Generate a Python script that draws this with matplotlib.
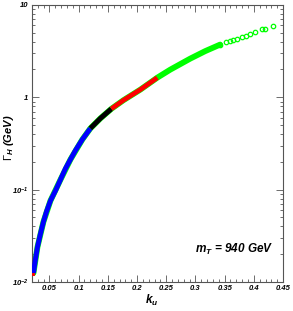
import numpy as np
import matplotlib
matplotlib.use('Agg')
import matplotlib.pyplot as plt
from matplotlib.ticker import MultipleLocator, LogLocator, FixedLocator, NullFormatter

plt.rcParams['mathtext.fontset'] = 'custom'
plt.rcParams['mathtext.rm'] = 'Liberation Sans:italic:bold'
plt.rcParams['mathtext.it'] = 'Liberation Sans:italic:bold'
plt.rcParams['mathtext.sf'] = 'Liberation Sans'

k_blue = [0.0226, 0.0261, 0.0295, 0.0346, 0.0397, 0.0449, 0.0517, 0.0603,
          0.0688, 0.0774, 0.0859, 0.0944, 0.1064, 0.1201]
g_blue = [0.0125, 0.0178, 0.0240, 0.0333, 0.0449, 0.0577, 0.0759, 0.0976,
          0.128, 0.169, 0.212, 0.265, 0.350, 0.461]

k_black = [0.1201, 0.1372, 0.1560]
g_black = [0.461, 0.591, 0.750]

k_red = [0.1560, 0.1765, 0.2056, 0.2346]
g_red = [0.750, 0.928, 1.21, 1.63]

k_green = [0.0226, 0.0295, 0.0397, 0.0517, 0.0688, 0.0859, 0.1064, 0.1201,
           0.1372, 0.1560, 0.1765, 0.2056, 0.2346, 0.2568, 0.2910, 0.3167, 0.3423]
g_green = [0.0125, 0.0240, 0.0449, 0.0759, 0.128, 0.212, 0.350, 0.461,
           0.591, 0.750, 0.928, 1.21, 1.63, 1.99, 2.62, 3.16, 3.72]

# sparse tail of green points
k_tail = [0.3526, 0.3594, 0.3650, 0.3719, 0.3794, 0.3868, 0.3936, 0.4021, 0.4146, 0.4187, 0.4324]
g_tail = [3.93, 4.03, 4.16, 4.30, 4.46, 4.64, 4.80, 5.05, 5.44, 5.50, 5.91]

k_red_dot = [0.0212]
g_red_dot = [0.0122]

fig = plt.figure(figsize=(2.93, 3.11), dpi=100)
ax = fig.add_axes([0.109, 0.0932, 0.857, 0.891])

ax.plot(k_green, g_green, color='#00ff00', lw=4.2, solid_capstyle='round', zorder=2)
ax.plot(k_green[-1:], g_green[-1:], 'o', mfc='none', mec='#00ff00', ms=3.2, mew=0.9, zorder=2)
ax.plot(k_tail, g_tail, 'o', mfc='none', mec='#00ff00', ms=3.2, mew=0.9, zorder=2)
ax.plot(k_blue, g_blue, color='#0000ff', lw=3.6, solid_capstyle='butt', zorder=3)
ax.plot(k_black, g_black, color='black', lw=3.6, solid_capstyle='butt', zorder=3)
ax.plot(k_red, g_red, color='#ff0000', lw=3.4, solid_capstyle='butt', zorder=3)
ax.plot(k_red_dot, g_red_dot, 's', color='#ff0000', ms=1.2, zorder=4)

ax.set_yscale('log')
ax.set_xlim(0.02, 0.45)
ax.set_ylim(0.01, 10)

tick_font = dict(family='Liberation Sans', weight='bold', style='italic', size=5.5)
ax.xaxis.set_major_locator(FixedLocator([0.05, 0.1, 0.15, 0.2, 0.25, 0.3, 0.35, 0.4, 0.45]))
ax.xaxis.set_minor_locator(MultipleLocator(0.01))
ax.set_xticklabels(['0.05', '0.1', '0.15', '0.2', '0.25', '0.3', '0.35', '0.4', '0.45'], **tick_font)
ax.yaxis.set_major_locator(FixedLocator([0.01, 0.1, 1, 10]))
ax.yaxis.set_minor_locator(LogLocator(base=10, subs=np.arange(2, 10)))
ax.yaxis.set_minor_formatter(NullFormatter())
ax.set_yticklabels([r'$10^{-2}$', r'$10^{-1}$', '1', '10'], **tick_font)

ax.tick_params(which='both', direction='in', top=True, right=True, width=0.6, color='#555555')
ax.tick_params(which='major', length=5, pad=2.5)
ax.tick_params(which='minor', length=2.5)
for s in ax.spines.values():
    s.set_color('#555555')
    s.set_linewidth(0.8)

lab_font = dict(family='Liberation Sans', weight='bold', style='italic')
ax.set_xlabel(r'$k_{u}$', fontsize=8.5, **lab_font)
ax.xaxis.set_label_coords(0.478, -0.038)
ax.set_ylabel(r'$\mathsf{\Gamma}_{H}$ (GeV)', fontsize=8, **lab_font)
ax.yaxis.set_label_coords(-0.062, 0.52)

ax.text(0.433, 0.0228, r'$m_{T}$ = 940 GeV', ha='right', va='center', fontsize=8.5, **lab_font)

fig.savefig('out.png', dpi=100)
